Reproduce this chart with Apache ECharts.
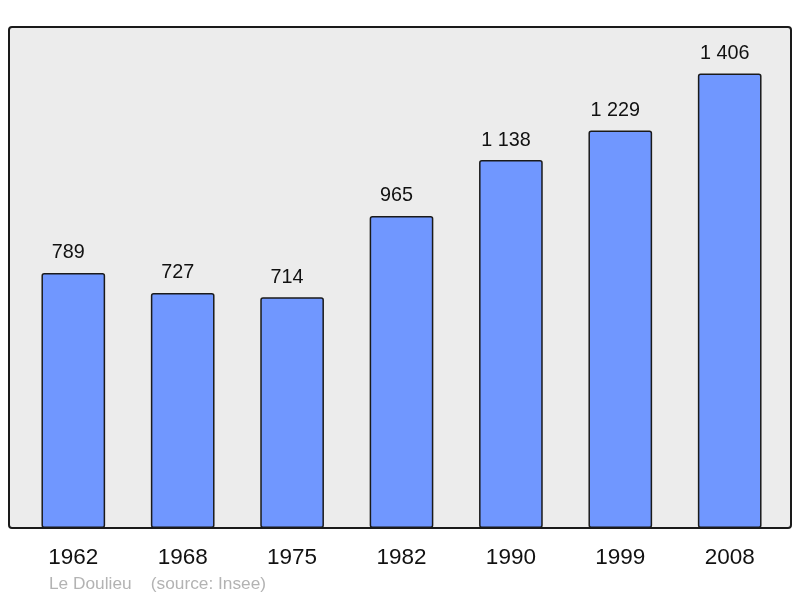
<!DOCTYPE html>
<html><head><meta charset="utf-8">
<script src="https://cdn.jsdelivr.net/npm/echarts@6/dist/echarts.min.js"></script>
<style>html,body{margin:0;padding:0;background:#fff}#c{width:800px;height:598px}</style>
</head><body><div id="c"></div>
<script>
const years = ['1962','1968','1975','1982','1990','1999','2008'];
const population = [789, 727, 714, 965, 1138, 1229, 1406];
const footerText = 'Le Doulieu    (source: Insee)';

function fmt(v){ const s=String(v); return s.length>3 ? s.slice(0,-3)+' '+s.slice(-3) : s; }

const chart = echarts.init(document.getElementById('c'), null, {renderer:'canvas'});
chart.setOption({
  animation:false,
  backgroundColor:'#ffffff',
  textStyle:{fontFamily:'Liberation Sans, Arial, sans-serif'},
  grid:{left:18.6, right:15.6, top:43, bottom:70, containLabel:false},
  graphic:[
    {type:'rect', z:-10, silent:true, shape:{x:9, y:27, width:782, height:501, r:3},
     style:{fill:'#ececec', stroke:'#1a1a1a', lineWidth:2}},
    {type:'text', left:49, top:576, silent:true,
     style:{text:footerText, fill:'#b3b3b3', font:'17.3px "Liberation Sans", Arial, sans-serif'}}
  ],
  xAxis:{type:'category', data:years, boundaryGap:true,
    axisLine:{show:false}, axisTick:{show:false},
    axisLabel:{color:'#111', fontSize:22.5, margin:18.5, fontFamily:'Liberation Sans'}},
  yAxis:{type:'value', min:0, max:1500, show:false, splitLine:{show:false}},
  series:[{type:'bar', data:population, barWidth:'58.2%',
    itemStyle:{color:'#7097ff', borderColor:'#1a1a1a', borderWidth:1.5, borderRadius:2},
    label:{show:true, position:'top', distance:10, offset:[-5,0], color:'#111', fontSize:19.8,
      fontFamily:'Liberation Sans', formatter:p=>fmt(p.value)}}]
});
</script></body></html>
